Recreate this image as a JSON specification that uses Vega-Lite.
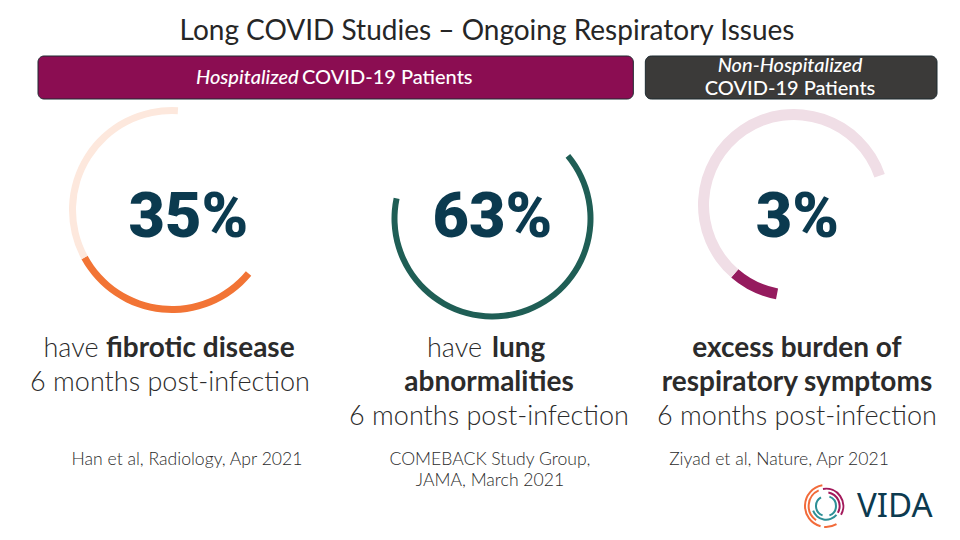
{
  "$schema": "https://vega.github.io/schema/vega-lite/v6.json",
  "width": 960,
  "height": 490,
  "autosize": {"type": "none"},
  "padding": {"top": 50, "left": 0, "right": 0, "bottom": 0},
  "background": "#ffffff",
  "title": {"text": "Long COVID Studies – Ongoing Respiratory Issues", "font": "Lato", "fontSize": 28, "fontWeight": 400, "color": "#262626", "anchor": "middle", "baseline": "alphabetic", "offset": -18.3, "dx": 7},
  "config": {"view": {"stroke": null}, "text": {"font": "Lato"}},
  "datasets": {
    "headers": [
      {"group": "Hospitalized", "from": 0, "to": 2, "lead": "Hospitalized", "rest": "COVID-19 Patients"},
      {"group": "Non-Hospitalized", "from": 2, "to": 3, "lead": "Non-Hospitalized", "rest": "COVID-19 Patients"}
    ],
    "gauges": [
      {"study": 1, "part": "share", "from": 129.7, "to": 241.5},
      {"study": 1, "part": "track", "from": 241.5, "to": 363.4},
      {"study": 2, "part": "share", "from": 50.3, "to": 281.9},
      {"study": 3, "part": "share", "from": 190.8, "to": 220.9},
      {"study": 3, "part": "track", "from": 220.9, "to": 431.1}
    ],
    "texts": [
      {"study": 1, "line": 0, "part": "stat", "text": "35%"},
      {"study": 2, "line": 0, "part": "stat", "text": "63%"},
      {"study": 3, "line": 0, "part": "stat", "text": "3%"},
      {"study": 1, "line": 1, "part": "lead", "text": "have"},
      {"study": 1, "line": 1, "part": "key", "text": "fibrotic disease"},
      {"study": 1, "line": 2, "part": "plain", "text": "6 months post-infection"},
      {"study": 2, "line": 1, "part": "lead", "text": "have"},
      {"study": 2, "line": 1, "part": "key", "text": "lung"},
      {"study": 2, "line": 2, "part": "emph", "text": "abnormalities"},
      {"study": 2, "line": 3, "part": "plain", "text": "6 months post-infection"},
      {"study": 3, "line": 1, "part": "emph", "text": "excess burden of"},
      {"study": 3, "line": 2, "part": "emph", "text": "respiratory symptoms"},
      {"study": 3, "line": 3, "part": "plain", "text": "6 months post-infection"},
      {"study": 1, "line": 4, "part": "cite", "text": "Han et al, Radiology, Apr 2021"},
      {"study": 2, "line": 4, "part": "cite", "text": "COMEBACK Study Group,"},
      {"study": 2, "line": 5, "part": "cite", "text": "JAMA, March 2021"},
      {"study": 3, "line": 4, "part": "cite", "text": "Ziyad et al, Nature, Apr 2021"}
    ],
    "logo": [
      {"ring": 4, "hue": "orange", "from": 195, "to": 350},
      {"ring": 4, "hue": "orange", "from": 150, "to": 185},
      {"ring": 3, "hue": "orange", "from": 215, "to": 335},
      {"ring": 3, "hue": "magenta", "from": 350, "to": 480},
      {"ring": 2, "hue": "magenta", "from": 10, "to": 120},
      {"ring": 2, "hue": "teal", "from": 130, "to": 250},
      {"ring": 1, "hue": "teal", "from": 200, "to": 330},
      {"ring": 1, "hue": "teal", "from": 20, "to": 160}
    ],
    "brand": [{"name": "VIDA"}]
  },
  "layer": [
    {
      "data": {"name": "headers"},
      "mark": {"type": "rect", "cornerRadius": 6, "stroke": "#1d2a30", "strokeWidth": 1, "xOffset": 6, "x2Offset": -6},
      "encoding": {
        "x": {"field": "from", "type": "quantitative", "scale": {"domain": [0, 3], "range": [32, 943], "nice": false, "zero": false}, "axis": null},
        "x2": {"field": "to"},
        "y": {"datum": 0, "type": "quantitative", "scale": {"domain": [0, 1], "range": [6, 49], "nice": false, "zero": false}, "axis": null},
        "y2": {"datum": 1},
        "color": {"field": "group", "type": "nominal", "scale": {"domain": ["Hospitalized", "Non-Hospitalized"], "range": ["#8b0d52", "#3b3a39"]}, "legend": null}
      }
    },
    {
      "data": {"name": "headers"},
      "transform": [{"filter": "datum.group === 'Hospitalized'"}],
      "mark": {"type": "text", "align": "left", "baseline": "middle", "dx": 164, "font": "Lato", "fontStyle": "italic", "fontWeight": 500, "fontSize": 20, "color": "#ffffff"},
      "encoding": {
        "x": {"field": "from", "type": "quantitative", "scale": {"domain": [0, 3], "range": [32, 943], "nice": false, "zero": false}, "axis": null},
        "y": {"datum": 0.5, "type": "quantitative", "scale": {"domain": [0, 1], "range": [6, 49], "nice": false, "zero": false}, "axis": null},
        "text": {"field": "lead"}
      }
    },
    {
      "data": {"name": "headers"},
      "transform": [{"filter": "datum.group === 'Hospitalized'"}],
      "mark": {"type": "text", "align": "left", "baseline": "middle", "dx": 270, "font": "Lato", "fontWeight": 500, "fontSize": 20, "color": "#ffffff"},
      "encoding": {
        "x": {"field": "from", "type": "quantitative", "scale": {"domain": [0, 3], "range": [32, 943], "nice": false, "zero": false}, "axis": null},
        "y": {"datum": 0.5, "type": "quantitative", "scale": {"domain": [0, 1], "range": [6, 49], "nice": false, "zero": false}, "axis": null},
        "text": {"field": "rest"}
      }
    },
    {
      "data": {"name": "headers"},
      "transform": [{"filter": "datum.group === 'Non-Hospitalized'"}],
      "mark": {"type": "text", "align": "center", "baseline": "middle", "dx": 150.7, "dy": -11.5, "font": "Lato", "fontStyle": "italic", "fontWeight": 500, "fontSize": 20, "color": "#ffffff"},
      "encoding": {
        "x": {"field": "from", "type": "quantitative", "scale": {"domain": [0, 3], "range": [32, 943], "nice": false, "zero": false}, "axis": null},
        "y": {"datum": 0.5, "type": "quantitative", "scale": {"domain": [0, 1], "range": [6, 49], "nice": false, "zero": false}, "axis": null},
        "text": {"field": "lead"}
      }
    },
    {
      "data": {"name": "headers"},
      "transform": [{"filter": "datum.group === 'Non-Hospitalized'"}],
      "mark": {"type": "text", "align": "center", "baseline": "middle", "dx": 150.7, "dy": 11.5, "font": "Lato", "fontWeight": 500, "fontSize": 20, "color": "#ffffff"},
      "encoding": {
        "x": {"field": "from", "type": "quantitative", "scale": {"domain": [0, 3], "range": [32, 943], "nice": false, "zero": false}, "axis": null},
        "y": {"datum": 0.5, "type": "quantitative", "scale": {"domain": [0, 1], "range": [6, 49], "nice": false, "zero": false}, "axis": null},
        "text": {"field": "rest"}
      }
    },
    {
      "data": {"name": "gauges"},
      "transform": [{"filter": "datum.study === 1"}],
      "mark": {"type": "arc", "radius": 103, "radius2": 96},
      "encoding": {
        "x": {"field": "study", "type": "quantitative", "scale": {"domain": [1, 2, 3], "range": [172, 492.5, 794], "nice": false, "zero": false}, "axis": null},
        "y": {"field": "study", "type": "quantitative", "scale": {"domain": [1, 2, 3], "range": [160, 168.5, 155], "nice": false, "zero": false}, "axis": null},
        "theta": {"field": "from", "type": "quantitative", "stack": null, "scale": {"domain": [0, 360], "range": [0, 6.283185307]}},
        "theta2": {"field": "to"},
        "color": {"field": "part", "type": "nominal", "scale": {"domain": ["share", "track"], "range": ["#f27435", "#fde8dd"]}, "legend": null}
      }
    },
    {
      "data": {"name": "gauges"},
      "transform": [{"filter": "datum.study === 2"}],
      "mark": {"type": "arc", "radius": 101, "radius2": 95},
      "encoding": {
        "x": {"field": "study", "type": "quantitative", "scale": {"domain": [1, 2, 3], "range": [172, 492.5, 794], "nice": false, "zero": false}, "axis": null},
        "y": {"field": "study", "type": "quantitative", "scale": {"domain": [1, 2, 3], "range": [160, 168.5, 155], "nice": false, "zero": false}, "axis": null},
        "theta": {"field": "from", "type": "quantitative", "stack": null, "scale": {"domain": [0, 360], "range": [0, 6.283185307]}},
        "theta2": {"field": "to"},
        "color": {"field": "part", "type": "nominal", "scale": {"domain": ["share", "track"], "range": ["#1f5e55", "#dfeae8"]}, "legend": null}
      }
    },
    {
      "data": {"name": "gauges"},
      "transform": [{"filter": "datum.study === 3"}],
      "mark": {"type": "arc", "radius": 96, "radius2": 85},
      "encoding": {
        "x": {"field": "study", "type": "quantitative", "scale": {"domain": [1, 2, 3], "range": [172, 492.5, 794], "nice": false, "zero": false}, "axis": null},
        "y": {"field": "study", "type": "quantitative", "scale": {"domain": [1, 2, 3], "range": [160, 168.5, 155], "nice": false, "zero": false}, "axis": null},
        "theta": {"field": "from", "type": "quantitative", "stack": null, "scale": {"domain": [0, 360], "range": [0, 6.283185307]}},
        "theta2": {"field": "to"},
        "color": {"field": "part", "type": "nominal", "scale": {"domain": ["share", "track"], "range": ["#951b5e", "#f0dee6"]}, "legend": null}
      }
    },
    {
      "data": {"name": "texts"},
      "transform": [{"filter": "datum.part === 'stat'"}],
      "mark": {"type": "text", "align": "center", "baseline": "alphabetic", "font": "Roboto", "fontWeight": 900, "fontSize": 63, "color": "#0b3a4f"},
      "encoding": {
        "x": {"field": "study", "type": "quantitative", "scale": {"domain": [1, 2, 3], "range": [188.5, 492.5, 797.5], "nice": false, "zero": false}, "axis": null},
        "y": {"field": "line", "type": "quantitative", "scale": {"domain": [0, 1, 2, 3, 4, 5], "range": [187, 307, 341, 375, 415, 435.5], "nice": false, "zero": false}, "axis": null},
        "text": {"field": "text"}
      }
    },
    {
      "data": {"name": "texts"},
      "transform": [{"filter": "datum.part === 'plain'"}],
      "mark": {"type": "text", "align": "center", "baseline": "alphabetic", "font": "Lato", "fontWeight": 300, "fontSize": 27, "color": "#2b2b2b"},
      "encoding": {
        "x": {"field": "study", "type": "quantitative", "scale": {"domain": [1, 2, 3], "range": [170, 489, 797], "nice": false, "zero": false}, "axis": null},
        "y": {"field": "line", "type": "quantitative", "scale": {"domain": [0, 1, 2, 3, 4, 5], "range": [187, 307, 341, 375, 415, 435.5], "nice": false, "zero": false}, "axis": null},
        "text": {"field": "text"}
      }
    },
    {
      "data": {"name": "texts"},
      "transform": [{"filter": "datum.part === 'emph'"}],
      "mark": {"type": "text", "align": "center", "baseline": "alphabetic", "font": "Lato", "fontWeight": 700, "fontSize": 28, "color": "#2b2b2b"},
      "encoding": {
        "x": {"field": "study", "type": "quantitative", "scale": {"domain": [1, 2, 3], "range": [170, 489, 797], "nice": false, "zero": false}, "axis": null},
        "y": {"field": "line", "type": "quantitative", "scale": {"domain": [0, 1, 2, 3, 4, 5], "range": [187, 307, 341, 375, 415, 435.5], "nice": false, "zero": false}, "axis": null},
        "text": {"field": "text"}
      }
    },
    {
      "data": {"name": "texts"},
      "transform": [{"filter": "datum.part === 'lead'"}],
      "mark": {"type": "text", "align": "right", "baseline": "alphabetic", "font": "Lato", "fontWeight": 300, "fontSize": 27, "color": "#2b2b2b"},
      "encoding": {
        "x": {"field": "study", "type": "quantitative", "scale": {"domain": [1, 2], "range": [98.5, 482], "nice": false, "zero": false}, "axis": null},
        "y": {"field": "line", "type": "quantitative", "scale": {"domain": [0, 1, 2, 3, 4, 5], "range": [187, 307, 341, 375, 415, 435.5], "nice": false, "zero": false}, "axis": null},
        "text": {"field": "text"}
      }
    },
    {
      "data": {"name": "texts"},
      "transform": [{"filter": "datum.part === 'key'"}],
      "mark": {"type": "text", "align": "left", "baseline": "alphabetic", "font": "Lato", "fontWeight": 700, "fontSize": 28, "color": "#2b2b2b"},
      "encoding": {
        "x": {"field": "study", "type": "quantitative", "scale": {"domain": [1, 2], "range": [106, 492], "nice": false, "zero": false}, "axis": null},
        "y": {"field": "line", "type": "quantitative", "scale": {"domain": [0, 1, 2, 3, 4, 5], "range": [187, 307, 341, 375, 415, 435.5], "nice": false, "zero": false}, "axis": null},
        "text": {"field": "text"}
      }
    },
    {
      "data": {"name": "texts"},
      "transform": [{"filter": "datum.part === 'cite'"}],
      "mark": {"type": "text", "align": "center", "baseline": "alphabetic", "font": "Lato", "fontWeight": 300, "fontSize": 17.6, "color": "#2b2b2b"},
      "encoding": {
        "x": {"field": "study", "type": "quantitative", "scale": {"domain": [1, 2, 3], "range": [187, 490, 779], "nice": false, "zero": false}, "axis": null},
        "y": {"field": "line", "type": "quantitative", "scale": {"domain": [0, 1, 2, 3, 4, 5], "range": [187, 307, 341, 375, 415, 435.5], "nice": false, "zero": false}, "axis": null},
        "text": {"field": "text"}
      }
    },
    {
      "data": {"name": "logo"},
      "mark": {"type": "arc", "radius2Offset": -2, "xOffset": -134, "yOffset": -34},
      "encoding": {
        "x": {"datum": 1, "type": "quantitative", "scale": {"domain": [0, 1], "range": [0, 960], "nice": false, "zero": false}, "axis": null},
        "y": {"datum": 1, "type": "quantitative", "scale": {"domain": [0, 1], "range": [0, 490], "nice": false, "zero": false}, "axis": null},
        "radius": {"field": "ring", "type": "quantitative", "scale": {"type": "linear", "domain": [1, 4], "range": [11, 22], "zero": false}},
        "radius2": {"field": "ring"},
        "theta": {"field": "from", "type": "quantitative", "stack": null, "scale": {"domain": [0, 360], "range": [0, 6.283185307]}},
        "theta2": {"field": "to"},
        "color": {"field": "hue", "type": "nominal", "scale": {"domain": ["orange", "magenta", "teal"], "range": ["#f26b3a", "#a3195b", "#2e8f96"]}, "legend": null}
      }
    },
    {
      "data": {"name": "brand"},
      "mark": {"type": "text", "align": "left", "baseline": "alphabetic", "dx": -103, "dy": -23, "font": "Noto Sans", "fontWeight": 400, "fontSize": 33, "color": "#0c3a4f"},
      "encoding": {
        "x": {"datum": 1, "type": "quantitative", "scale": {"domain": [0, 1], "range": [0, 960], "nice": false, "zero": false}, "axis": null},
        "y": {"datum": 1, "type": "quantitative", "scale": {"domain": [0, 1], "range": [0, 490], "nice": false, "zero": false}, "axis": null},
        "text": {"field": "name"}
      }
    }
  ],
  "resolve": {"scale": {"x": "independent", "y": "independent", "color": "independent", "theta": "independent", "radius": "independent"}}
}
